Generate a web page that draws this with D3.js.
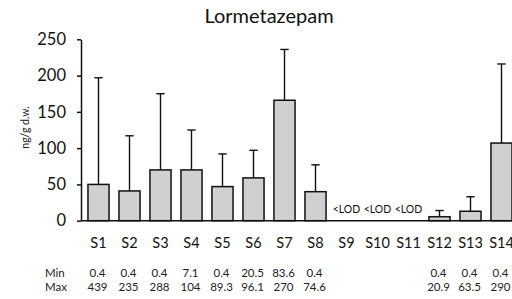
<!DOCTYPE html>
<html>
<head>
<meta charset="utf-8">
<script src="https://cdn.jsdelivr.net/npm/d3@7"></script>
<style>
  body { margin: 0; background: #fff; }
  svg { display: block; font-family: Lato, "Open Sans", sans-serif; }
</style>
</head>
<body>
<div id="chart"></div>
<script>
// sites, mean concentration and SD (upper whisker only)
const sites = ["S1", "S2", "S3", "S4", "S5", "S6", "S7", "S8", "S9", "S10", "S11", "S12", "S13", "S14"];
const means = [50, 41, 70, 70, 47, 59, 166, 40, null, null, null, 5.5, 13, 107];
const sds   = [147, 76, 105, 55, 45, 38, 70, 37, null, null, null, 8.5, 20, 109];
const minVals = ["0.4", "0.4", "0.4", "7.1", "0.4", "20.5", "83.6", "0.4", "", "", "", "0.4", "0.4", "0.4"];
const maxVals = ["439", "235", "288", "104", "89.3", "96.1", "270", "74.6", "", "", "", "20.9", "63.5", "290"];
const yTicks = [0, 50, 100, 150, 200, 250];

const width = 512;
const height = 299;

const svg = d3.select("#chart")
    .append("svg")
    .attr("width", width)
    .attr("height", height);

// scales
const x = d3.scaleBand()
    .domain(sites)
    .range([83, 517])
    .paddingInner(0.32)
    .paddingOuter(0.16);

const y = d3.scaleLinear()
    .domain([0, 250])
    .range([220.7, 39.3]);

// title
svg.append("text")
    .attr("x", 269)
    .attr("y", 22.5)
    .attr("text-anchor", "middle")
    .style("font-size", "20px")
    .attr("fill", "#111")
    .text("Lormetazepam");

// y axis
const yAxis = svg.append("g")
    .attr("transform", "translate(81,0)")
    .call(d3.axisLeft(y).tickValues(yTicks).tickSize(4).tickPadding(11).tickSizeOuter(0));
yAxis.select(".domain").attr("stroke", "#111").attr("stroke-width", 1.5);
yAxis.selectAll(".tick line").attr("stroke", "#111").attr("stroke-width", 1.5);
yAxis.selectAll(".tick text")
    .attr("fill", "#111")
    .style("font-size", "16.5px")
    .style("font-family", "Lato, sans-serif");

// y label
svg.append("text")
    .attr("transform", "translate(29,127.5) rotate(-90)")
    .attr("text-anchor", "middle")
    .style("font-size", "10.5px")
    .attr("fill", "#222")
    .text("ng/g d.w.");

// bars
const data = sites.map((s, i) => ({ site: s, mean: means[i], sd: sds[i] }));
const withData = data.filter(d => d.mean !== null);

// error bars (drawn first so the bar covers the lower part)
const err = svg.append("g").attr("stroke", "#111").attr("stroke-width", 1.4);
err.selectAll("line.stem")
    .data(withData)
    .enter()
    .append("line")
    .attr("class", "stem")
    .attr("x1", d => x(d.site) + x.bandwidth() / 2)
    .attr("x2", d => x(d.site) + x.bandwidth() / 2)
    .attr("y1", d => y(d.mean))
    .attr("y2", d => y(d.mean + d.sd));
err.selectAll("line.cap")
    .data(withData)
    .enter()
    .append("line")
    .attr("class", "cap")
    .attr("x1", d => x(d.site) + x.bandwidth() / 2 - 4.2)
    .attr("x2", d => x(d.site) + x.bandwidth() / 2 + 4.2)
    .attr("y1", d => y(d.mean + d.sd))
    .attr("y2", d => y(d.mean + d.sd));

svg.append("g")
    .selectAll("rect")
    .data(withData)
    .enter()
    .append("rect")
    .attr("x", d => x(d.site))
    .attr("y", d => y(d.mean))
    .attr("width", x.bandwidth())
    .attr("height", d => y(0) - y(d.mean))
    .attr("fill", "#d0d0d0")
    .attr("stroke", "#111")
    .attr("stroke-width", 1.5);

// x axis line
svg.append("line")
    .attr("x1", 81)
    .attr("x2", width)
    .attr("y1", y(0))
    .attr("y2", y(0))
    .attr("stroke", "#111")
    .attr("stroke-width", 1.5);

// <LOD markers
svg.append("g")
    .selectAll("text")
    .data(data.filter(d => d.mean === null))
    .enter()
    .append("text")
    .attr("x", d => x(d.site) + x.bandwidth() / 2)
    .attr("y", 212.7)
    .attr("text-anchor", "middle")
    .style("font-size", "10.5px")
    .attr("fill", "#111")
    .text("<LOD");

// site labels
svg.append("g")
    .selectAll("text")
    .data(sites)
    .enter()
    .append("text")
    .attr("x", d => x(d) + x.bandwidth() / 2)
    .attr("y", 248.3)
    .attr("text-anchor", "middle")
    .style("font-size", "14.5px")
    .attr("fill", "#111")
    .text(d => d);

// min / max table
const table = svg.append("g").style("font-size", "11.5px").attr("fill", "#222");
table.append("text").attr("x", 45).attr("y", 276.7).text("Min");
table.append("text").attr("x", 45).attr("y", 290.7).text("Max");
table.selectAll("text.min")
    .data(sites)
    .enter()
    .append("text")
    .attr("class", "min")
    .attr("x", d => x(d) + x.bandwidth() / 2 - 1)
    .attr("y", 276.7)
    .attr("text-anchor", "middle")
    .text((d, i) => minVals[i]);
table.selectAll("text.max")
    .data(sites)
    .enter()
    .append("text")
    .attr("class", "max")
    .attr("x", d => x(d) + x.bandwidth() / 2 - 1)
    .attr("y", 290.7)
    .attr("text-anchor", "middle")
    .text((d, i) => maxVals[i]);
</script>
</body>
</html>
